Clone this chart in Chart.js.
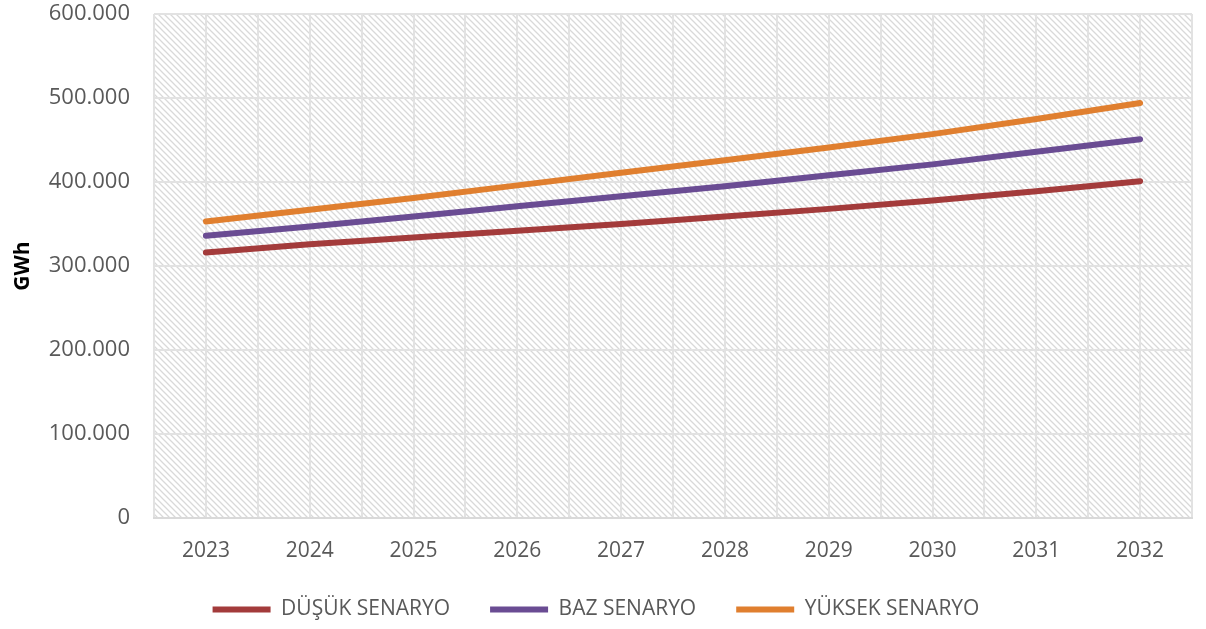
<!DOCTYPE html>
<html lang="tr">
<head>
    <meta charset="UTF-8">
    <title>Elektrik Talep Senaryoları</title>
    <script src="https://cdn.jsdelivr.net/npm/chart.js"></script>
    <style>
        html, body { margin: 0; padding: 0; background: #fff; }
        #wrap { width: 1206px; height: 629px; }
    </style>
</head>
<body>
    <div id="wrap"><canvas id="chart" width="1206" height="629"></canvas></div>

    <script>
        // years on the x axis
        const years = ['2023', '2024', '2025', '2026', '2027', '2028', '2029', '2030', '2031', '2032'];

        // GWh
        const dusuk  = [316000, 326000, 334000, 342000, 350000, 359000, 368000, 378000, 389000, 401000];
        const baz    = [336000, 347000, 359000, 371000, 383000, 395000, 408000, 421000, 436000, 451000];
        const yuksek = [353000, 367000, 381000, 396000, 411000, 426000, 441000, 457000, 475000, 494000];

        const seriesNames = ['DÜŞÜK SENARYO', 'BAZ SENARYO', 'YÜKSEK SENARYO'];
        const seriesColors = ['#a33b3b', '#6a4c93', '#e07f2f'];

        const yTicks = [0, 100000, 200000, 300000, 400000, 500000, 600000];

        const FONT = "'Open Sans', sans-serif";
        const LEGEND_PAD = 40;

        function toPoints(arr) {
            return arr.map((v, i) => ({ x: i, y: v }));
        }

        function makeHatch() {
            const c = document.createElement('canvas');
            c.width = 6; c.height = 6;
            const g = c.getContext('2d');
            g.fillStyle = '#ffffff';
            g.fillRect(0, 0, 6, 6);
            g.strokeStyle = '#d9d9d9';
            g.lineWidth = 1.3;
            g.beginPath();
            g.moveTo(0, 0); g.lineTo(6, 6);
            g.moveTo(-3, 3); g.lineTo(3, 9);
            g.moveTo(3, -3); g.lineTo(9, 3);
            g.stroke();
            return c;
        }

        const hatchBg = {
            id: 'hatchBg',
            beforeDraw(chart) {
                const { ctx, chartArea: a } = chart;
                ctx.save();
                ctx.fillStyle = ctx.createPattern(makeHatch(), 'repeat');
                ctx.fillRect(a.left, a.top, a.right - a.left, a.bottom - a.top);
                ctx.restore();
            }
        };

        // keep the legend short so the plot gets the room; items are drawn lower
        const legendHeight = {
            id: 'legendHeight',
            afterInit(chart) {
                const lg = chart.legend;
                if (!lg || lg._patched) return;
                const fit = lg.fit;
                lg.fit = function () {
                    fit.call(this);
                    this.height = 70;
                };
                lg._patched = true;
            }
        };

        const ctx = document.getElementById('chart').getContext('2d');
        new Chart(ctx, {
            type: 'line',
            data: {
                datasets: [dusuk, baz, yuksek].map((d, i) => ({
                    label: seriesNames[i],
                    data: toPoints(d),
                    borderColor: seriesColors[i],
                    backgroundColor: seriesColors[i],
                    borderWidth: 6,
                    borderCapStyle: 'round',
                    pointRadius: 0,
                    tension: 0
                }))
            },
            options: {
                responsive: false,
                animation: false,
                layout: { padding: { top: 14, right: 14, left: 0, bottom: 0 } },
                plugins: {
                    tooltip: { enabled: false },
                    legend: {
                        position: 'bottom',
                        labels: {
                            boxWidth: 58,
                            boxHeight: 6,
                            padding: LEGEND_PAD,
                            color: '#595959',
                            font: { family: FONT, size: 21 },
                            generateLabels(chart) {
                                return chart.data.datasets.map((ds, i) => ({
                                    text: ds.label,
                                    fillStyle: ds.borderColor,
                                    strokeStyle: ds.borderColor,
                                    lineWidth: 0,
                                    fontColor: '#595959',
                                    datasetIndex: i
                                }));
                            }
                        }
                    }
                },
                scales: {
                    x: {
                        type: 'linear',
                        min: -0.5,
                        max: 9.5,
                        afterBuildTicks(scale) {
                            const t = [];
                            for (let v = -0.5; v <= 9.5; v += 0.5) t.push({ value: v });
                            scale.ticks = t;
                        },
                        border: { color: '#d9d9d9', width: 2 },
                        grid: { color: '#e2e2e2', lineWidth: 2, drawTicks: false },
                        ticks: {
                            autoSkip: false,
                            maxRotation: 0,
                            padding: 20,
                            color: '#595959',
                            font: { family: FONT, size: 21 },
                            callback(v) {
                                return Number.isInteger(v) ? years[v] : '';
                            }
                        },
                        afterFit(scale) {
                            scale.height = 41;
                            scale.paddingLeft = 0;
                            scale.paddingRight = 0;
                        }
                    },
                    y: {
                        min: 0,
                        max: 600000,
                        afterBuildTicks(scale) {
                            scale.ticks = yTicks.map(v => ({ value: v }));
                        },
                        border: { display: false },
                        grid: { color: '#e2e2e2', lineWidth: 2, drawTicks: false },
                        title: {
                            display: true,
                            text: 'GWh',
                            color: '#000000',
                            font: { family: FONT, size: 21, weight: 'bold' },
                            padding: { top: 10, bottom: 0 }
                        },
                        ticks: {
                            padding: 24,
                            color: '#595959',
                            font: { family: FONT, size: 22 },
                            callback(v) {
                                return v === 0 ? '0' : v.toLocaleString('de-DE');
                            }
                        },
                        afterFit(scale) {
                            scale.width = 154;
                            scale.paddingTop = 0;
                            scale.paddingBottom = 0;
                        }
                    }
                }
            },
            plugins: [hatchBg, legendHeight]
        });
    </script>
</body>
</html>
